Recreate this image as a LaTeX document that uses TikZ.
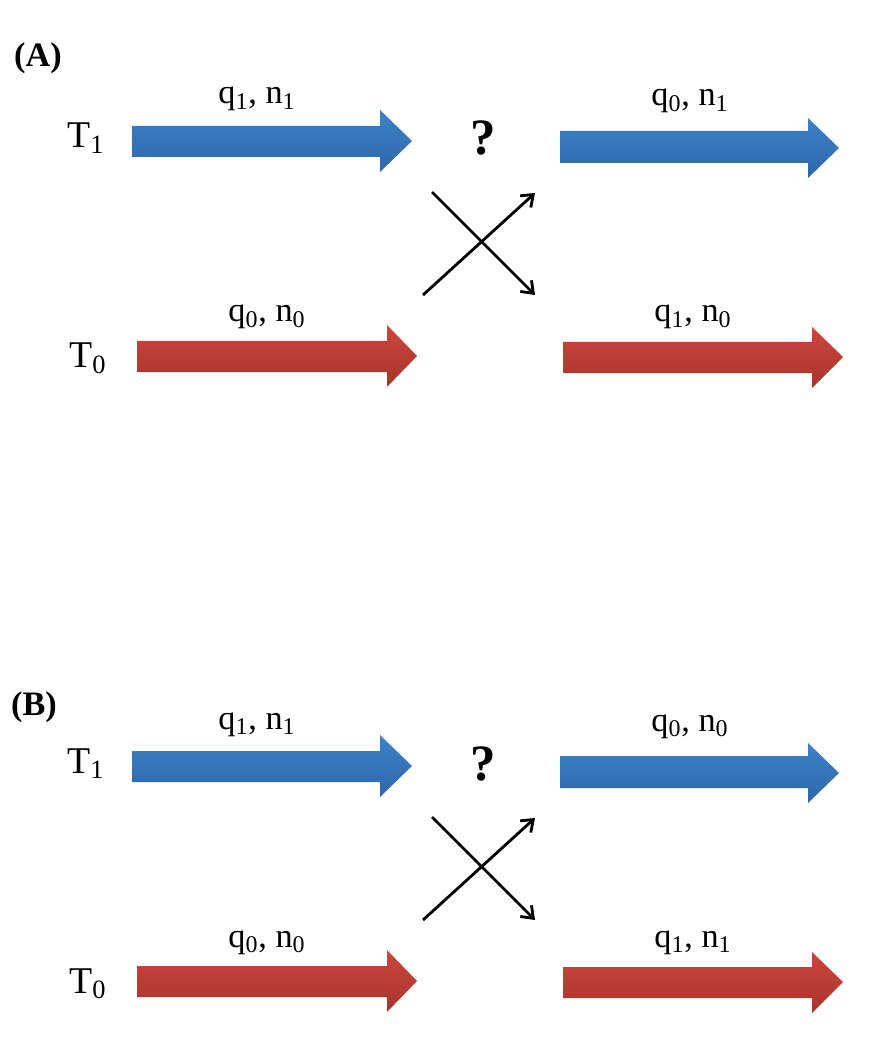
\documentclass[tikz,border=0pt]{standalone}
\usepackage{fontspec}
\setmainfont{Liberation Serif}
\usetikzlibrary{arrows.meta}

\definecolor{blueTop}{RGB}{60,130,200}
\definecolor{blueBot}{RGB}{46,102,170}
\definecolor{redTop}{RGB}{204,70,60}
\definecolor{redBot}{RGB}{168,52,44}

\tikzset{
  pair/.style={anchor=base, font=\fontsize{19.5}{22}\selectfont},
  tlabel/.style={anchor=base, font=\fontsize{21.5}{24}\selectfont},
  qmark/.style={anchor=base, font=\fontsize{29}{31}\selectfont\bfseries},
  panel/.style={font=\fontsize{19.5}{22}\selectfont\bfseries},
  swap/.style={line width=1.6pt, -{Straight Barb[length=6pt,width=9pt]}},
  bluefill/.style={top color=blueTop, bottom color=blueBot},
  redfill/.style={top color=redTop, bottom color=redBot}
}

\begin{document}
\begin{tikzpicture}[x=0.02cm, y=-0.02cm]
  \useasboundingbox (0,0) rectangle (890,1050);
  \foreach \p/\dy/\tx/\ty/\outup/\outdown in {
      A/0/38/58/{q\textsubscript{0}, n\textsubscript{1}}/{q\textsubscript{1}, n\textsubscript{0}},
      B/625/34/707/{q\textsubscript{0}, n\textsubscript{0}}/{q\textsubscript{1}, n\textsubscript{1}}}{
    \node[panel] (tag\p) at (\tx,\ty) {(\p)};
    \begin{scope}[shift={(0,\dy)}]
      % incoming particles
      \shade[bluefill] (132,126) -- (380,126) -- (380,110) -- (412,141) -- (380,172) -- (380,157) -- (132,157) -- cycle;
      \shade[redfill] (137,341) -- (387,341) -- (387,325) -- (417,356) -- (387,387) -- (387,372) -- (137,372) -- cycle;
      % outgoing particles
      \shade[bluefill] (560,131) -- (808,131) -- (808,118) -- (839,148) -- (808,178) -- (808,163) -- (560,163) -- cycle;
      \shade[redfill] (563,342) -- (812,342) -- (812,327) -- (843,357) -- (812,388) -- (812,373) -- (563,373) -- cycle;

      \node[tlabel] (tone\p) at (86,148) {T\textsubscript{1}};
      \node[tlabel] (tzero\p) at (88,368) {T\textsubscript{0}};
      \node[pair] (inup\p) at (257,104) {q\textsubscript{1}, n\textsubscript{1}};
      \node[pair] (indown\p) at (267,322) {q\textsubscript{0}, n\textsubscript{0}};
      \node[pair] (outup\p) at (690,106) {\outup};
      \node[pair] (outdown\p) at (693,322) {\outdown};
      \node[qmark] (ask\p) at (483,155) {?};

      % exchange
      \coordinate (da\p) at (432,192);
      \coordinate (db\p) at (535,295);
      \coordinate (ua\p) at (423,295);
      \coordinate (ub\p) at (535,193);
      \draw[swap] (da\p) -- (db\p);
      \draw[swap] (ua\p) -- (ub\p);
    \end{scope}
  }
\end{tikzpicture}
\end{document}
